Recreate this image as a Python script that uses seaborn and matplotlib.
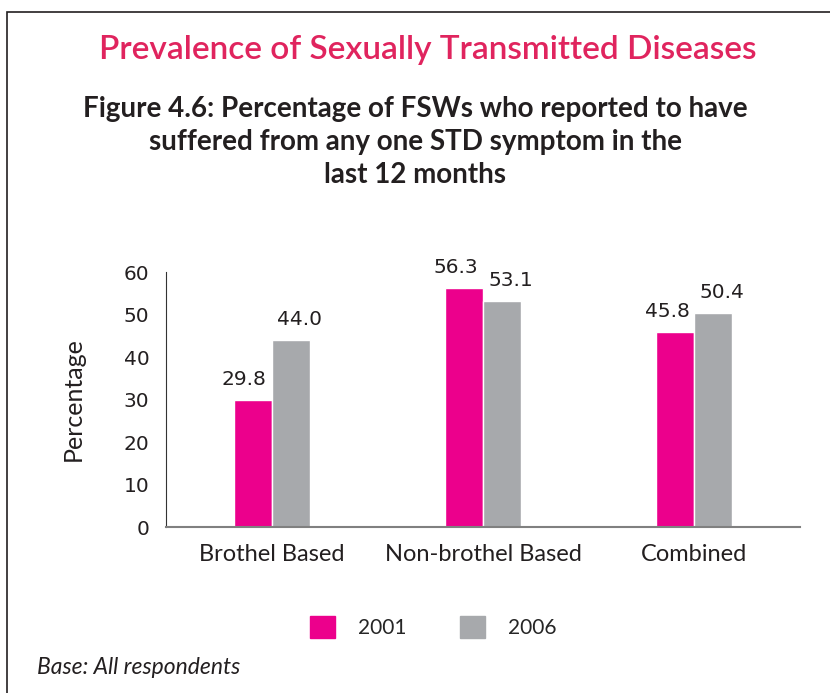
import pandas as pd
import matplotlib.pyplot as plt
import matplotlib.patches as mpatches
import seaborn as sns
import numpy as np

categories = ['Brothel Based', 'Non-brothel Based', 'Combined']
years = ['2001', '2006']
values_2001 = [29.8, 56.3, 45.8]
values_2006 = [44.0, 53.1, 50.4]
yticks = [0, 10, 20, 30, 40, 50, 60]

pink = '#EC008C'
grey = '#A7A9AC'
title_col = '#E0245E'
ink = '#231F20'

df = pd.DataFrame({
    'category': categories * 2,
    'year': [years[0]] * 3 + [years[1]] * 3,
    'value': values_2001 + values_2006,
})

sns.set_style('white')
plt.rcParams['font.family'] = ['Lato', 'DejaVu Sans']

fig = plt.figure(figsize=(8.3, 6.93), dpi=100)
ax = fig.add_axes([0.2, 0.2395, 0.764, 0.368])

sns.barplot(data=df, x='category', y='value', hue='year', order=categories,
            hue_order=years, palette=[pink, grey], width=0.36, gap=0,
            saturation=1, legend=False, ax=ax)

# value labels, 2001 nudged left and 2006 nudged right as in the original
for cont, dx in zip(ax.containers, [-6, 6]):
    for bar in cont:
        h = bar.get_height()
        ax.annotate(f'{h:.1f}', (bar.get_x() + bar.get_width() / 2, h),
                    xytext=(dx, 8), textcoords='offset points',
                    ha='center', va='bottom', fontsize=14.5,
                    family='DejaVu Sans', color=ink, annotation_clip=False)

ax.set_xlim(-0.5, 2.5)
ax.set_ylim(0, 60)
ax.set_yticks(yticks)
ax.set_yticklabels([str(t) for t in yticks], family='DejaVu Sans',
                   fontsize=14.5, color=ink)
ax.set_xticks(np.arange(len(categories)))
ax.set_xticklabels(categories, fontsize=17, color=ink)
ax.set_xticks(np.arange(-0.5, len(categories), 1.0), minor=True)
ax.tick_params(axis='x', which='major', length=0, pad=12)
ax.tick_params(axis='x', which='minor', length=7, color='#555555', width=1, direction='out')
ax.tick_params(axis='y', length=8, color='#555555', width=1, direction='out', pad=4)
ax.set_xlabel('')
ax.set_ylabel('Percentage', fontsize=18, color=ink, labelpad=28)
for s in ['top', 'right']:
    ax.spines[s].set_visible(False)
ax.spines['left'].set_color('#333333')
ax.spines['bottom'].set_color('#808080')
ax.spines['bottom'].set_linewidth(1.5)

# frame around the panel
fig.patches.append(mpatches.Rectangle((7 / 830, -0.1), 1.2, 1 - 12 / 693 + 0.1,
                                      transform=fig.transFigure, fill=False,
                                      edgecolor=ink, linewidth=1.2))

fig.text(0.515, 1 - 50 / 693, 'Prevalence of Sexually Transmitted Diseases',
         ha='center', va='center', fontsize=24, color=title_col, weight='semibold')
fig.text(0.5, 1 - 142 / 693,
         'Figure 4.6: Percentage of FSWs who reported to have\n'
         'suffered from any one STD symptom in the\nlast 12 months',
         ha='center', va='center', fontsize=20, weight='bold', color=ink,
         linespacing=1.33)

handles = [mpatches.Patch(color=pink, label=years[0]),
           mpatches.Patch(color=grey, label=years[1])]
fig.legend(handles=handles, loc='center', bbox_to_anchor=(0.522, 1 - 627 / 693),
           ncol=2, frameon=False, fontsize=15, handlelength=1.2, handleheight=1.2,
           columnspacing=2.6, handletextpad=1.1)

fig.text(37 / 830, 1 - 668 / 693, 'Base: All respondents', fontsize=16.5,
         style='italic', color=ink, va='center')

fig.savefig('out.png', dpi=100)
